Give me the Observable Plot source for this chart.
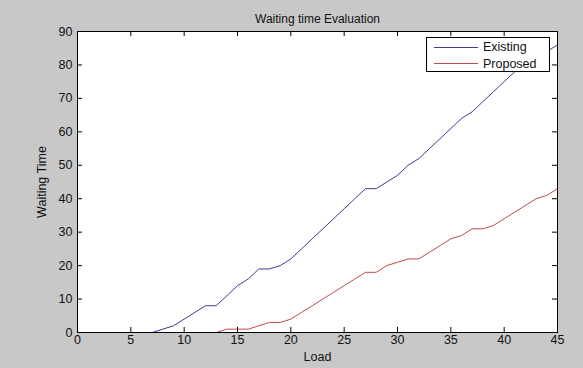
<!DOCTYPE html>
<html>
<head>
<meta charset="utf-8">
<script src="https://cdn.jsdelivr.net/npm/d3@7"></script>
<script src="https://cdn.jsdelivr.net/npm/@observablehq/plot@0.6"></script>
<style>
  html, body { margin: 0; padding: 0; background: #c8c8c8; }
  #wrap { position: relative; width: 583px; height: 368px; overflow: hidden; font-family: "Liberation Sans", Arial, sans-serif; }
  #legend { position: absolute; left: 426px; top: 37px; width: 124px; height: 35px; background: #fff; border: 1px solid #000; box-sizing: border-box; font-size: 12.5px; color: #111; }
  #legend .row { position: absolute; left: 0; height: 16px; display: flex; align-items: center; }
  #legend .sw { width: 44px; height: 0; margin-left: 7px; margin-right: 5px; border-top: 1px solid; }
</style>
</head>
<body>
<div id="wrap"></div>
<script>
const title = "Waiting time Evaluation";
const xLabel = "Load";
const yLabel = "Waiting Time";
const seriesNames = ["Existing", "Proposed"];
const seriesColors = ["#3b3b9c", "#bf4a4a"];
const load = [1,2,3,4,5,6,7,8,9,10,11,12,13,14,15,16,17,18,19,20,21,22,23,24,25,26,27,28,29,30,31,32,33,34,35,36,37,38,39,40,41,42,43,44,45];
const existing = [0,0,0,0,0,0,0,1,2,4,6,8,8,11,14,16,19,19,20,22,25,28,31,34,37,40,43,43,45,47,50,52,55,58,61,64,66,69,72,75,78,80,82,84,86];
const proposed = [0,0,0,0,0,0,0,0,0,0,0,0,0,1,1,1,2,3,3,4,6,8,10,12,14,16,18,18,20,21,22,22,24,26,28,29,31,31,32,34,36,38,40,41,43];
const xTicks = [0,5,10,15,20,25,30,35,40,45];
const yTicks = [0,10,20,30,40,50,60,70,80,90];

const rows = [];
load.forEach((x, i) => {
  rows.push({x, y: existing[i], s: seriesNames[0]});
  rows.push({x, y: proposed[i], s: seriesNames[1]});
});

const W = 583, H = 368;
const mL = 77, mR = 26, mT = 31, mB = 36;
const fh = H - mT - mB, fw = W - mL - mR;

const chart = Plot.plot({
  width: W, height: H,
  marginLeft: mL, marginRight: mR, marginTop: mT, marginBottom: mB,
  style: { background: "#c8c8c8", fontFamily: "Liberation Sans, Arial, sans-serif", fontSize: "12px", color: "#111" },
  x: { domain: [0, 45], ticks: xTicks },
  y: { domain: [0, 90], ticks: yTicks },
  color: { domain: seriesNames, range: seriesColors },
  marks: [
    Plot.frame({ fill: "white", stroke: null }),
    Plot.line(rows, { x: "x", y: "y", z: "s", stroke: "s", strokeWidth: 1 }),
    Plot.tickX(xTicks, { x: d => d, insetTop: fh - 5, stroke: "#000" }),
    Plot.tickX(xTicks, { x: d => d, insetBottom: fh - 5, stroke: "#000" }),
    Plot.tickY(yTicks, { y: d => d, insetRight: fw - 5, stroke: "#000" }),
    Plot.tickY(yTicks, { y: d => d, insetLeft: fw - 5, stroke: "#000" }),
    Plot.frame({ stroke: "#000", strokeWidth: 1 }),
    Plot.axisX(xTicks, { tickSize: 0, tickPadding: 3, fontSize: 12.5, label: xLabel, labelAnchor: "center", labelArrow: "none", labelOffset: 28 }),
    Plot.axisY(yTicks, { tickSize: 0, tickPadding: 5, fontSize: 12.5, label: yLabel, labelAnchor: "center", labelArrow: "none", labelOffset: 40 }),
    Plot.text([title], { frameAnchor: "top", dy: -17, fontSize: 12, fill: "#111" })
  ]
});

const wrap = document.getElementById("wrap");
wrap.appendChild(chart);

const legend = document.createElement("div");
legend.id = "legend";
seriesNames.forEach((name, i) => {
  const row = document.createElement("div");
  row.className = "row";
  row.style.top = (1 + i * 16.5) + "px";
  const sw = document.createElement("span");
  sw.className = "sw";
  sw.style.borderTopColor = seriesColors[i];
  const t = document.createElement("span");
  t.textContent = name;
  row.appendChild(sw);
  row.appendChild(t);
  legend.appendChild(row);
});
wrap.appendChild(legend);
</script>
</body>
</html>
